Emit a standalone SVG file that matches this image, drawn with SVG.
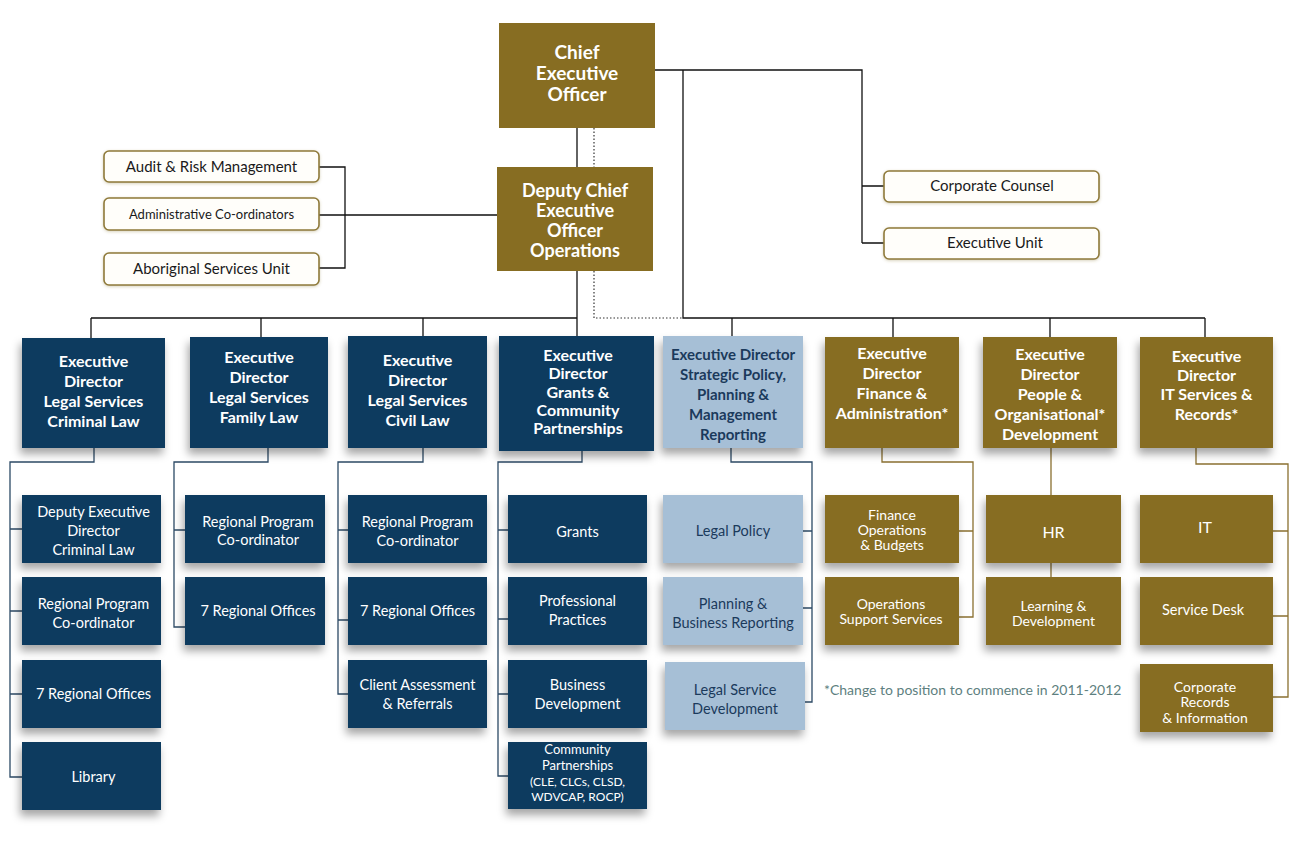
<svg xmlns="http://www.w3.org/2000/svg" width="1299" height="842" viewBox="0 0 1299 842">
<defs>
<filter id="sh" x="-20%" y="-20%" width="140%" height="150%">
<feDropShadow dx="-2" dy="6" stdDeviation="4" flood-color="#000" flood-opacity="0.35"/>
</filter>
<filter id="sh2" x="-10%" y="-30%" width="120%" height="160%">
<feDropShadow dx="0" dy="1" stdDeviation="1.5" flood-color="#8a7a3a" flood-opacity="0.35"/>
</filter>
</defs>
<style>
text{font-family:Lato,"Open Sans","Liberation Sans",sans-serif;text-anchor:middle}
.navy{fill:#0e3a5e;filter:url(#sh)}
.olive{fill:#876d22;filter:url(#sh)}
.olivet{fill:#876d22}
.light{fill:#a6bfd6;filter:url(#sh)}
.rb{fill:#fffefa;stroke:#8f7a3a;stroke-width:1.6;filter:url(#sh2)}
.big{fill:#fff;font-weight:bold;font-size:19px}
.big2{fill:#fff;font-weight:bold;font-size:18px}
.dir{fill:#fff;font-weight:bold;font-size:16px}
.dirl{fill:#1b3a5c;font-weight:bold;font-size:15px}
.sub{fill:#fff;font-size:14.5px}
.subl{fill:#1b3a5c;font-size:14.5px}
.rt{fill:#1a1a1a;font-size:15px}
.main{fill:none;stroke:#111;stroke-width:1.3}
.dot{fill:none;stroke:#333;stroke-width:1.2;stroke-dasharray:1.5 2}
.cn{fill:none;stroke:#2c4a66;stroke-width:1.3}
.co{fill:none;stroke:#8a7030;stroke-width:1.3}
.note{fill:#5e7f80;font-size:14px;text-anchor:start}
</style>
<g id="connectors">
<path class="main" d="M577 128V318M655 70H862V243M862 186H884M862 243H884M683 70V318H1205M91 318H577M91 318V338M261 318V337M423 318V336M577 318V336M732 318V336M893 318V337M1050 318V337M1205 318V337"/>
<path class="main" d="M319 167H345V268H319M319 215H497"/>
<path class="dot" d="M594 128V167M594 271V318H683"/>
<path class="cn" d="M94 448V462H10V777H22M10 529H22M10 611H22M10 694H22"/>
<path class="cn" d="M268 448V462H174V627H185M174 530H185"/>
<path class="cn" d="M423 448V462H338V694H348M338 530H348M338 620H348"/>
<path class="cn" d="M582 451V462H498V776H508M498 530H508M498 619H508M498 694H508"/>
<path class="cn" d="M731 448V462H812V702H805M803 531H812M803 608H812"/>
<path class="co" d="M882 448V462H973V617H959M959 531H973"/>
<path class="co" d="M1051 448V495M1051 563V577"/>
<path class="co" d="M1196 448V464H1288V697H1273M1273 531H1288M1273 616H1288"/>
</g>
<g id="ceo"><rect x="499" y="23" width="156" height="105" class="olivet"/>
<text class="big" x="577" y="59">Chief</text><text class="big" x="577" y="80">Executive</text><text class="big" x="577" y="101">Officer</text></g>
<g id="dceo"><rect x="497" y="167" width="156" height="104" class="olivet"/>
<text class="big2" x="575" y="197">Deputy Chief</text><text class="big2" x="575" y="217">Executive</text><text class="big2" x="575" y="237">Officer</text><text class="big2" x="575" y="257">Operations</text></g>
<g id="audit"><rect class="rb" x="104" y="151" width="215" height="31" rx="5"/><text class="rt" x="211.5" y="172">Audit &amp; Risk Management</text></g>
<g id="admin"><rect class="rb" x="104" y="198" width="215" height="32" rx="5"/><text class="rt" x="211.5" y="219" style="font-size:13px">Administrative Co-ordinators</text></g>
<g id="aboriginal"><rect class="rb" x="104" y="253" width="215" height="32" rx="5"/><text class="rt" x="211.5" y="274">Aboriginal Services Unit</text></g>
<g id="counsel"><rect class="rb" x="884" y="171" width="215" height="31" rx="5"/><text class="rt" x="992" y="191">Corporate Counsel</text></g>
<g id="execunit"><rect class="rb" x="884" y="228" width="215" height="31" rx="5"/><text class="rt" x="995" y="248">Executive Unit</text></g>

<g id="ed-criminal"><rect class="navy" x="22" y="338" width="143" height="110"/>
<text class="dir" x="93.5" y="367">Executive</text><text class="dir" x="93.5" y="387">Director</text><text class="dir" x="93.5" y="407">Legal Services</text><text class="dir" x="93.5" y="427">Criminal Law</text></g>
<g id="ed-family"><rect class="navy" x="190" y="337" width="138" height="111"/>
<text class="dir" x="259" y="363">Executive</text><text class="dir" x="259" y="383">Director</text><text class="dir" x="259" y="403">Legal Services</text><text class="dir" x="259" y="423">Family Law</text></g>
<g id="ed-civil"><rect class="navy" x="348" y="336" width="139" height="112"/>
<text class="dir" x="417.5" y="366">Executive</text><text class="dir" x="417.5" y="386">Director</text><text class="dir" x="417.5" y="406">Legal Services</text><text class="dir" x="417.5" y="426">Civil Law</text></g>
<g id="ed-grants"><rect class="navy" x="499" y="336" width="155" height="115"/>
<text class="dir" x="578" y="361">Executive</text><text class="dir" x="578" y="379">Director</text><text class="dir" x="578" y="398">Grants &amp;</text><text class="dir" x="578" y="416">Community</text><text class="dir" x="578" y="434">Partnerships</text></g>
<g id="ed-strategic"><rect class="light" x="663" y="336" width="140" height="112"/>
<text class="dirl" x="733" y="360">Executive Director</text><text class="dirl" x="733" y="380">Strategic Policy,</text><text class="dirl" x="733" y="400">Planning &amp;</text><text class="dirl" x="733" y="420">Management</text><text class="dirl" x="733" y="440">Reporting</text></g>
<g id="ed-finance"><rect class="olive" x="825" y="337" width="134" height="111"/>
<text class="dir" x="892" y="359">Executive</text><text class="dir" x="892" y="379">Director</text><text class="dir" x="892" y="399">Finance &amp;</text><text class="dir" x="892" y="419">Administration*</text></g>
<g id="ed-people"><rect class="olive" x="983" y="337" width="134" height="111"/>
<text class="dir" x="1050" y="360">Executive</text><text class="dir" x="1050" y="380">Director</text><text class="dir" x="1050" y="400">People &amp;</text><text class="dir" x="1050" y="420">Organisational*</text><text class="dir" x="1050" y="440">Development</text></g>
<g id="ed-it"><rect class="olive" x="1140" y="337" width="133" height="111"/>
<text class="dir" x="1206.5" y="362">Executive</text><text class="dir" x="1206.5" y="381">Director</text><text class="dir" x="1206.5" y="400">IT Services &amp;</text><text class="dir" x="1206.5" y="420">Records*</text></g>

<g id="crim-deputy"><rect class="navy" x="22" y="495" width="139" height="68"/><text class="sub" x="93.5" y="517">Deputy Executive</text><text class="sub" x="93.5" y="536">Director</text><text class="sub" x="93.5" y="555">Criminal Law</text></g>
<g id="crim-rpc"><rect class="navy" x="22" y="577" width="139" height="68"/><text class="sub" x="93.5" y="609">Regional Program</text><text class="sub" x="93.5" y="628">Co-ordinator</text></g>
<g id="crim-offices"><rect class="navy" x="22" y="660" width="139" height="68"/><text class="sub" x="93.5" y="699">7 Regional Offices</text></g>
<g id="crim-library"><rect class="navy" x="22" y="742" width="139" height="68"/><text class="sub" x="93.5" y="782">Library</text></g>

<g id="fam-rpc"><rect class="navy" x="185" y="495" width="140" height="68"/><text class="sub" x="258" y="527">Regional Program</text><text class="sub" x="258" y="545">Co-ordinator</text></g>
<g id="fam-offices"><rect class="navy" x="185" y="577" width="140" height="68"/><text class="sub" x="258" y="616">7 Regional Offices</text></g>

<g id="civ-rpc"><rect class="navy" x="348" y="495" width="139" height="68"/><text class="sub" x="417.5" y="527">Regional Program</text><text class="sub" x="417.5" y="546">Co-ordinator</text></g>
<g id="civ-offices"><rect class="navy" x="348" y="577" width="139" height="68"/><text class="sub" x="417.5" y="616">7 Regional Offices</text></g>
<g id="civ-client"><rect class="navy" x="348" y="660" width="139" height="68"/><text class="sub" x="417.5" y="690">Client Assessment</text><text class="sub" x="417.5" y="709">&amp; Referrals</text></g>

<g id="gr-grants"><rect class="navy" x="508" y="495" width="139" height="68"/><text class="sub" x="577.5" y="537">Grants</text></g>
<g id="gr-prof"><rect class="navy" x="508" y="577" width="139" height="68"/><text class="sub" x="577.5" y="606">Professional</text><text class="sub" x="577.5" y="625">Practices</text></g>
<g id="gr-bus"><rect class="navy" x="508" y="660" width="139" height="68"/><text class="sub" x="577.5" y="690">Business</text><text class="sub" x="577.5" y="709">Development</text></g>
<g id="gr-comm"><rect class="navy" x="508" y="742" width="139" height="67"/><text class="sub" x="577.5" y="754" style="font-size:13px">Community</text><text class="sub" x="577.5" y="770" style="font-size:13px">Partnerships</text><text class="sub" x="577.5" y="786" style="font-size:12px">(CLE, CLCs, CLSD,</text><text class="sub" x="577.5" y="801" style="font-size:12px">WDVCAP, ROCP)</text></g>

<g id="sp-policy"><rect class="light" x="663" y="495" width="140" height="68"/><text class="subl" x="733" y="536">Legal Policy</text></g>
<g id="sp-planning"><rect class="light" x="663" y="577" width="140" height="68"/><text class="subl" x="733" y="609">Planning &amp;</text><text class="subl" x="733" y="628">Business Reporting</text></g>
<g id="sp-lsd"><rect class="light" x="665" y="662" width="140" height="68"/><text class="subl" x="735" y="695">Legal Service</text><text class="subl" x="735" y="714">Development</text></g>

<g id="fin-ops"><rect class="olive" x="825" y="495" width="134" height="68"/><text class="sub" x="892" y="520" style="font-size:14px">Finance</text><text class="sub" x="892" y="535" style="font-size:14px">Operations</text><text class="sub" x="892" y="550" style="font-size:14px">&amp; Budgets</text></g>
<g id="fin-support"><rect class="olive" x="825" y="577" width="134" height="68"/><text class="sub" x="891" y="609" style="font-size:14px">Operations</text><text class="sub" x="891" y="624" style="font-size:14px">Support Services</text></g>

<g id="pe-hr"><rect class="olive" x="986" y="495" width="135" height="68"/><text class="sub" x="1053.5" y="538" style="font-size:16px">HR</text></g>
<g id="pe-ld"><rect class="olive" x="986" y="577" width="135" height="68"/><text class="sub" x="1053.5" y="611" style="font-size:14px">Learning &amp;</text><text class="sub" x="1053.5" y="626" style="font-size:14px">Development</text></g>

<g id="it-it"><rect class="olive" x="1140" y="495" width="133" height="68"/><text class="sub" x="1205" y="533" style="font-size:16px">IT</text></g>
<g id="it-desk"><rect class="olive" x="1140" y="577" width="133" height="68"/><text class="sub" x="1203" y="615">Service Desk</text></g>
<g id="it-records"><rect class="olive" x="1140" y="664" width="133" height="68"/><text class="sub" x="1205" y="692" style="font-size:14px">Corporate</text><text class="sub" x="1205" y="707" style="font-size:14px">Records</text><text class="sub" x="1205" y="723" style="font-size:14px">&amp; Information</text></g>

<text class="note" x="824" y="695">*Change to position to commence in 2011-2012</text>
</svg>
